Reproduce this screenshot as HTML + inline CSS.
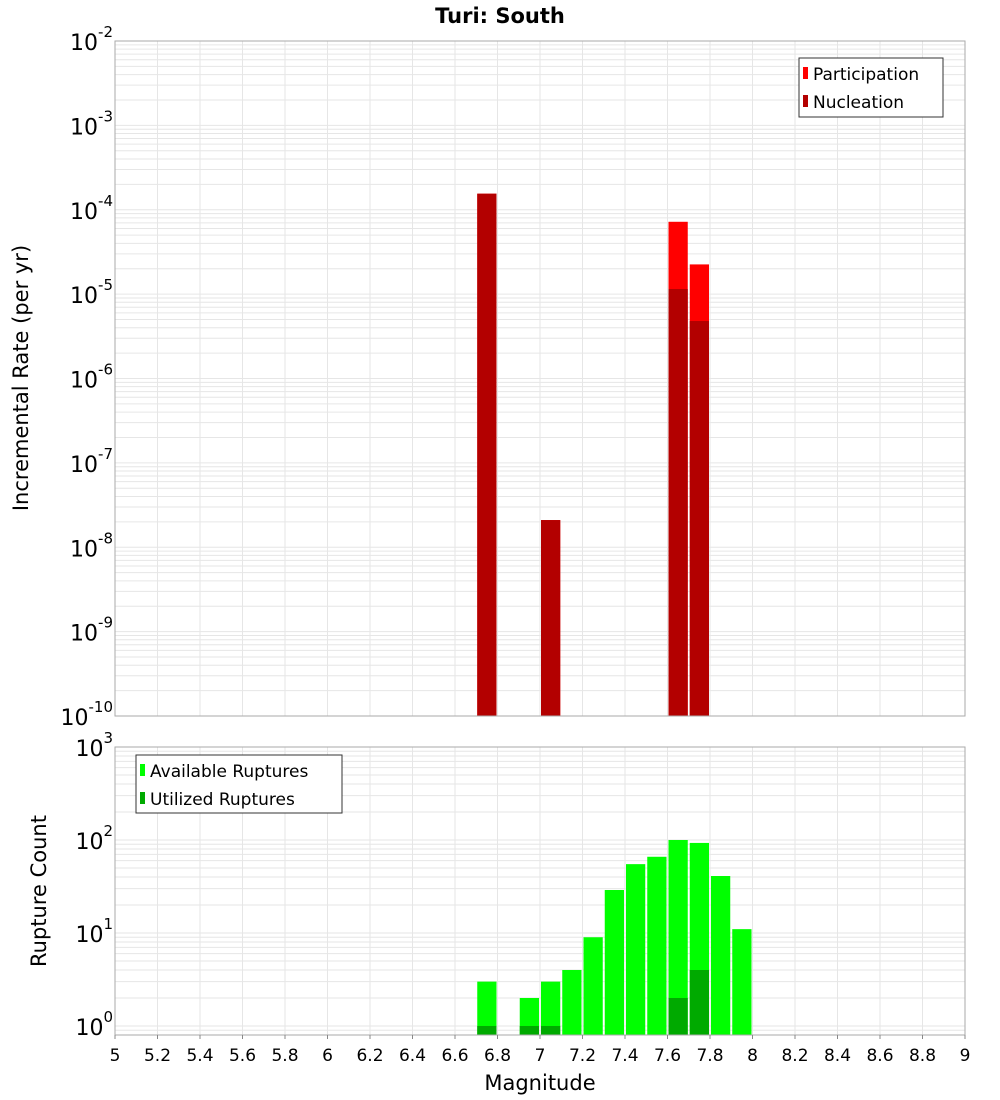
<!DOCTYPE html>
<html><head><meta charset="utf-8">
<style>
html,body{margin:0;padding:0;background:#fff;}
svg{display:block;font-family:"DejaVu Sans","Liberation Sans",sans-serif;}
</style></head>
<body>
<svg id="chart" width="1000" height="1100" xmlns="http://www.w3.org/2000/svg">
<text x="500" y="23" text-anchor="middle" font-size="21" font-weight="bold">Turi: South</text>
<g id="topPanel"></g>
<g id="botPanel"></g>
<text x="28" y="378" transform="rotate(-90 28 378)" text-anchor="middle" font-size="21">Incremental Rate (per yr)</text>
<text x="46" y="891" transform="rotate(-90 46 891)" text-anchor="middle" font-size="21">Rupture Count</text>
<text x="540" y="1090" text-anchor="middle" font-size="21">Magnitude</text>
<g id="legends"></g>
</svg>
<script>
const mags = [6.75, 7.05, 7.65, 7.75];
const participation = [1.55e-4, 2.1e-8, 7.2e-5, 2.25e-5];
const nucleation = [1.55e-4, 2.1e-8, 1.15e-5, 4.8e-6];
const countMags = [6.75, 6.95, 7.05, 7.15, 7.25, 7.35, 7.45, 7.55, 7.65, 7.75, 7.85, 7.95];
const available = [3, 2, 3, 4, 9, 29, 55, 66, 100, 93, 41, 11];
const utilized = [1, 1, 1, 0, 0, 0, 0, 0, 2, 4, 0, 0];
const xTicks = [5,5.2,5.4,5.6,5.8,6,6.2,6.4,6.6,6.8,7,7.2,7.4,7.6,7.8,8,8.2,8.4,8.6,8.8,9];
const topExps = [-2,-3,-4,-5,-6,-7,-8,-9,-10];
const botExps = [0,1,2,3];

const NS = "http://www.w3.org/2000/svg";
const X0 = 115, X1 = 965;
const xs = m => X0 + (m - 5) / 4 * (X1 - X0);
const T0 = 41, T1 = 716;
const yTop = v => T0 + (-2 - Math.log10(v)) / 8 * (T1 - T0);
const B0 = 747, B1 = 1035, BMIN = Math.log10(0.8);
const yBot = v => B1 - (Math.log10(v) - BMIN) / (3 - BMIN) * (B1 - B0);

function mk(tag, attrs, parent){
  const e = document.createElementNS(NS, tag);
  for (const k in attrs) e.setAttribute(k, attrs[k]);
  parent.appendChild(e); return e;
}
const topG = document.getElementById('topPanel');
const botG = document.getElementById('botPanel');

function grid(g, y0, y1, yfn, decLo, decHi){
  for (let d = decLo; d < decHi; d++) {
    for (let k = 1; k < 10; k++) {
      const v = k * Math.pow(10, d);
      const y = yfn(v);
      if (y < y0 - 0.5 || y > y1 + 0.5) continue;
      const l = mk('line', {x1:X0, x2:X1, y1:y, y2:y, stroke:'#e6e6e6', 'stroke-width':1}, g);
      
      
    }
  }
  xTicks.forEach(t => {
    const x = xs(t);
    const l = mk('line', {x1:x, x2:x, y1:y0, y2:y1, stroke:'#e6e6e6', 'stroke-width':1}, g);
    
    
  });
}
grid(topG, T0, T1, yTop, -10, -2);
grid(botG, B0, B1, yBot, -1, 3);

const bw = (X1 - X0) / 40;
function drawBar(g, m, v, yfn, ybase, color, name){
  const y = yfn(v);
  const r = mk('rect', {x: xs(m) - bw/2 + 1, y: y, width: bw - 2, height: ybase - y, fill: color}, g);
  
  
}
mags.forEach((m, i) => {
  drawBar(topG, m, participation[i], yTop, T1, '#ff0000', 'participation-bar');
  drawBar(topG, m, nucleation[i], yTop, T1, '#b30000', 'nucleation-bar');
});
countMags.forEach((m, i) => {
  if (available[i] > 0) drawBar(botG, m, available[i], yBot, B1, '#00ff00', 'available-bar');
  if (utilized[i] > 0) drawBar(botG, m, utilized[i], yBot, B1, '#00aa00', 'utilized-bar');
});

[[topG, T0, T1], [botG, B0, B1]].forEach(([g, a, b]) => {
  const r = mk('rect', {x:X0, y:a, width:X1-X0, height:b-a, fill:'none', stroke:'#aaa', 'stroke-width':1}, g);
  
  
});

function ylabel(g, y, e){
  const t = mk('text', {x: 113, y: y + 9, 'text-anchor':'end', 'font-size':22}, g);
  
  
  const a = mk('tspan', {}, t); a.textContent = '10';
  const b = mk('tspan', {dy: -13, 'font-size': 15}, t); b.textContent = String(e);
}
topExps.forEach(e => ylabel(topG, yTop(Math.pow(10, e)), e));
botExps.forEach(e => ylabel(botG, yBot(Math.pow(10, e)), e));

xTicks.forEach(t => {
  const x = xs(t);
  const l = mk('line', {x1:x, x2:x, y1:B1, y2:B1+4, stroke:'#888'}, botG);
  
  
  const tx = mk('text', {x:x, y:1061, 'text-anchor':'middle', 'font-size':17}, botG);
  
  
  tx.textContent = String(Math.round(t * 10) / 10);
});

const lg = document.getElementById('legends');
lg.innerHTML =
 '<g>' +
 '<rect x="799" y="58" width="144" height="59" fill="#fff" stroke="#333" stroke-width="1"/>' +
 '<rect x="803" y="67" width="5" height="12" fill="#ff0000"/>' +
 '<text x="813" y="80" font-size="17">Participation</text>' +
 '<rect x="803" y="95" width="5" height="12" fill="#b30000"/>' +
 '<text x="813" y="108" font-size="17">Nucleation</text></g>' +
 '<g>' +
 '<rect x="136" y="755" width="206" height="58" fill="#fff" stroke="#333" stroke-width="1"/>' +
 '<rect x="140" y="764" width="5" height="12" fill="#00ff00"/>' +
 '<text x="150" y="777" font-size="17">Available Ruptures</text>' +
 '<rect x="140" y="792" width="5" height="12" fill="#00aa00"/>' +
 '<text x="150" y="805" font-size="17">Utilized Ruptures</text></g>';
</script>
</body></html>
